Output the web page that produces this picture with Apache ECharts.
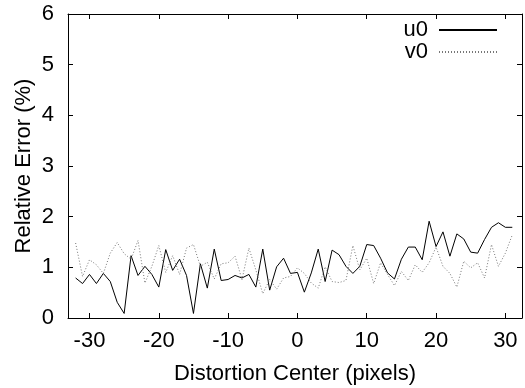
<!DOCTYPE html>
<html><head><meta charset="utf-8">
<script src="https://cdn.jsdelivr.net/npm/echarts@6/dist/echarts.min.js"></script>
<style>html,body{margin:0;padding:0;background:#fff}#c{width:525px;height:388px}</style>
</head><body><div id="c"></div>
<script>
var xValues = [-32,-31,-30,-29,-28,-27,-26,-25,-24,-23,-22,-21,-20,-19,-18,-17,-16,-15,-14,-13,-12,-11,-10,-9,-8,-7,-6,-5,-4,-3,-2,-1,0,1,2,3,4,5,6,7,8,9,10,11,12,13,14,15,16,17,18,19,20,21,22,23,24,25,26,27,28,29,30,31];
var u0 = [0.79,0.68,0.86,0.68,0.88,0.72,0.31,0.09,1.23,0.84,1.02,0.86,0.61,1.35,0.94,1.16,0.84,0.09,1.07,0.59,1.36,0.74,0.76,0.84,0.79,0.86,0.61,1.36,0.55,1.01,1.18,0.88,0.90,0.51,0.89,1.36,0.72,1.34,1.25,1.02,0.88,1.02,1.45,1.43,1.18,0.89,0.77,1.16,1.40,1.40,1.15,1.91,1.41,1.70,1.22,1.66,1.56,1.30,1.28,1.55,1.79,1.88,1.79,1.79];
var v0 = [1.48,0.82,1.15,1.05,0.88,1.28,1.49,1.27,1.16,1.53,0.69,1.02,1.43,0.90,1.23,0.86,1.38,1.45,1.02,1.10,0.77,1.07,1.09,1.22,0.76,1.38,0.95,0.48,0.76,0.57,0.79,0.82,0.99,0.88,0.69,0.59,1.01,0.72,0.70,0.74,1.43,0.95,1.18,0.68,1.09,0.86,0.64,0.92,0.74,1.05,0.90,1.09,1.40,1.02,0.88,0.61,1.12,0.99,1.09,0.79,1.45,1.02,1.28,1.64];
var xTicks = [-30,-20,-10,0,10,20,30];
var yTicks = [0,1,2,3,4,5,6];

function pairs(ys){ return xValues.map(function(x,i){ return [x, ys[i]]; }); }
var font = 'Liberation Sans, Arial, Helvetica, sans-serif';
var fs = 22;
var chart = echarts.init(document.getElementById('c'), null, {renderer:'canvas'});
var axisLine = {show:true, onZero:false, lineStyle:{color:'#000', width:1}};
chart.setOption({
  animation:false,
  backgroundColor:'#fff',
  grid:{left:68, right:3, top:14, bottom:70, containLabel:false, outerBoundsMode:'none'},
  legend:{
    right:22, top:14, orient:'vertical', align:'right', itemWidth:58, itemHeight:14, itemGap:0,
    itemStyle:{opacity:0},
    formatter:function(n){ return n + ' '; },
    textStyle:{fontFamily:font, fontSize:fs, color:'#000'},
    data:['u0','v0']
  },
  xAxis:[{
    type:'value', min:-33.1, max:32.4,
    name:'Distortion Center (pixels)', nameLocation:'middle', nameGap:45, nameMoveOverlap:false,
    nameTextStyle:{fontFamily:font, fontSize:fs, color:'#000'},
    axisLine:axisLine,
    axisTick:{show:true, inside:true, length:5, customValues:xTicks, lineStyle:{color:'#000'}},
    axisLabel:{show:true, customValues:xTicks, fontFamily:font, fontSize:fs, color:'#000', margin:12},
    splitLine:{show:false}
  },{
    type:'value', position:'top', min:-33.1, max:32.4,
    axisLine:axisLine,
    axisTick:{show:true, inside:true, length:5, customValues:xTicks, lineStyle:{color:'#000'}},
    axisLabel:{show:false}, splitLine:{show:false}
  }],
  yAxis:[{
    type:'value', min:0, max:6, interval:1,
    name:'Relative Error (%)', nameLocation:'middle', nameGap:33, nameMoveOverlap:false,
    nameTextStyle:{fontFamily:font, fontSize:fs, color:'#000'},
    axisLine:axisLine,
    axisTick:{show:true, inside:true, length:5, lineStyle:{color:'#000'}},
    axisLabel:{show:true, fontFamily:font, fontSize:fs, color:'#000', margin:14},
    splitLine:{show:false}
  },{
    type:'value', position:'right', min:0, max:6, interval:1,
    axisLine:axisLine,
    axisTick:{show:true, inside:true, length:5, lineStyle:{color:'#000'}},
    axisLabel:{show:false}, splitLine:{show:false}
  }],
  series:[{
    name:'u0', type:'line', data:pairs(u0), symbol:'none',
    lineStyle:{color:'#000', width:1}, itemStyle:{color:'#000'}
  },{
    name:'v0', type:'line', data:pairs(v0), symbol:'none',
    lineStyle:{color:'#777', width:1, type:[1,2]}, itemStyle:{color:'#777'}
  }]
});
</script></body></html>
